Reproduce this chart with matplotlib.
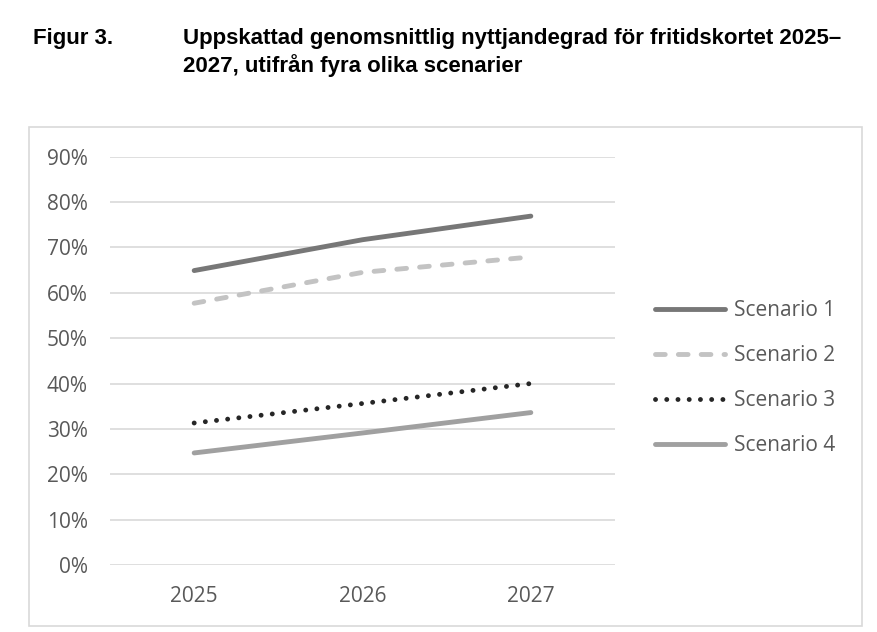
import matplotlib
matplotlib.use("Agg")
import matplotlib.pyplot as plt
import matplotlib.patches as patches
from matplotlib.ticker import PercentFormatter

years = ["2025", "2026", "2027"]
scenario_names = ["Scenario 1", "Scenario 2", "Scenario 3", "Scenario 4"]
scenario_1 = [0.649, 0.717, 0.769]
scenario_2 = [0.577, 0.645, 0.679]
scenario_3 = [0.313, 0.356, 0.400]
scenario_4 = [0.247, 0.291, 0.336]

title_num = "Figur 3."
title_lines = ["Uppskattad genomsnittlig nyttjandegrad för fritidskortet 2025–",
               "2027, utifrån fyra olika scenarier"]

title_font = "Liberation Sans"
body_font = "Open Sans"

fig = plt.figure(figsize=(8.78, 6.32), dpi=100)

# light frame around the chart area
frame = patches.Rectangle((29 / 878, 1 - 626 / 632), 833 / 878, 499 / 632,
                          transform=fig.transFigure, facecolor="white",
                          edgecolor="#d9d9d9", linewidth=1.2, zorder=-5)
fig.patches.append(frame)

fig.text(33 / 878, 1 - 44 / 632, title_num, fontsize=16, fontweight="bold",
         family=title_font, va="baseline", ha="left")
fig.text(183 / 878, 1 - 44 / 632, title_lines[0], fontsize=16, fontweight="bold",
         family=title_font, va="baseline", ha="left")
fig.text(183 / 878, 1 - 72 / 632, title_lines[1], fontsize=16, fontweight="bold",
         family=title_font, va="baseline", ha="left")

ax = fig.add_axes([110 / 878, 1 - 565 / 632, 505 / 878, (565 - 156.7) / 632])
ax.set_facecolor("none")

x = range(len(years))
lw = 3.5
ax.plot(x, scenario_1, color="#777777", lw=lw, solid_capstyle="round",
        label=scenario_names[0])
ax.plot(x, scenario_2, color="#c3c3c3", lw=lw, linestyle=(0, (2.0, 2.7)),
        dash_capstyle="round", label=scenario_names[1])
ax.plot(x, scenario_3, color="#262626", lw=lw, linestyle=(0, (0.01, 2.3)),
        dash_capstyle="round", label=scenario_names[2])
ax.plot(x, scenario_4, color="#a0a0a0", lw=lw, solid_capstyle="round",
        label=scenario_names[3])

ax.set_xlim(-0.5, 2.5)
ax.set_ylim(0, 0.9)
ax.set_yticks([i / 10 for i in range(10)])
ax.yaxis.set_major_formatter(PercentFormatter(1.0, decimals=0))
ax.set_xticks(list(x))
ax.set_xticklabels(years)
ax.grid(axis="y", color="#d9d9d9", linewidth=1.2)
ax.set_axisbelow(True)
for s in ax.spines.values():
    s.set_visible(False)
ax.tick_params(length=0, labelsize=15, labelcolor="#595959")
ax.tick_params(axis="x", pad=15)
ax.tick_params(axis="y", pad=16)
for lab in ax.get_xticklabels() + ax.get_yticklabels():
    lab.set_family(body_font)

fig.legend(loc="center left", bbox_to_anchor=(655 / 878, 1 - 378 / 632),
           frameon=False, handlelength=3.35, handletextpad=0.45,
           labelspacing=1.15, borderpad=0, borderaxespad=0,
           prop={"family": body_font, "size": 15}, labelcolor="#595959")

fig.savefig("out.png", dpi=100)
